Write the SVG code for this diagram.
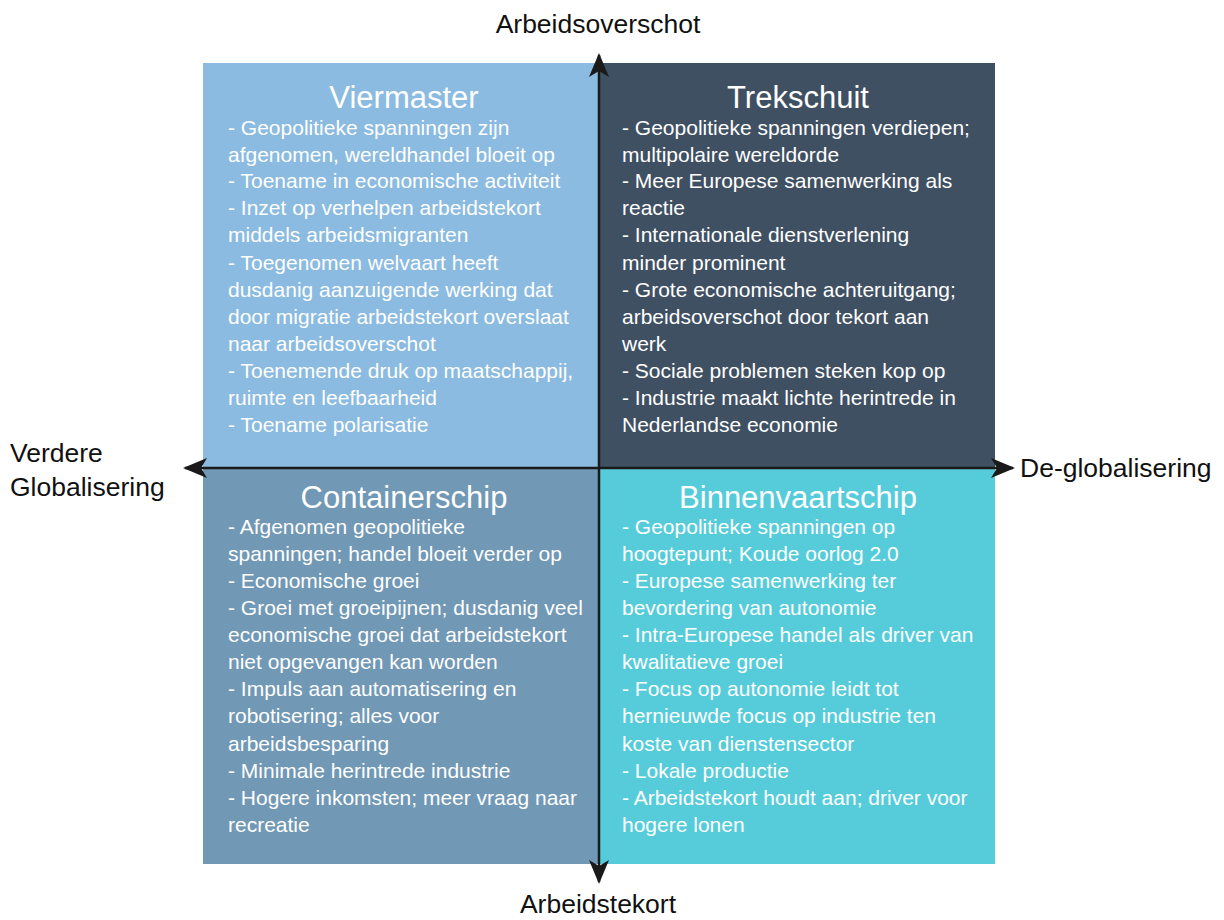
<svg xmlns="http://www.w3.org/2000/svg" width="1224" height="920" viewBox="0 0 1224 920">
<style>
.q text{fill:#ffffff;font-family:"Liberation Sans",Arial,sans-serif;font-size:21px}
.q .t{font-size:31px;text-anchor:middle}
.ax{fill:#111;font-family:"Liberation Sans",Arial,sans-serif;font-size:26.5px}
.axis{stroke:#1a1a1a;stroke-width:2.5;fill:none}
</style>
<defs>
<marker id="ah" viewBox="0 0 24 20" refX="22" refY="10" markerWidth="24" markerHeight="20" markerUnits="userSpaceOnUse" orient="auto">
<path d="M0,0 L24,10 L0,20 L6,10 Z" fill="#1a1a1a"/>
</marker>
</defs>
<rect width="1224" height="920" fill="#ffffff"/>
<g id="viermaster" class="q">
<rect x="203" y="63" width="396" height="405" fill="#8BBBE0"/>
<text class="t" x="404" y="108">Viermaster</text>
<text x="228" y="135">- Geopolitieke spanningen zijn</text>
<text x="228" y="162">afgenomen, wereldhandel bloeit op</text>
<text x="228" y="188">- Toename in economische activiteit</text>
<text x="228" y="215">- Inzet op verhelpen arbeidstekort</text>
<text x="228" y="242">middels arbeidsmigranten</text>
<text x="228" y="270">- Toegenomen welvaart heeft</text>
<text x="228" y="297">dusdanig aanzuigende werking dat</text>
<text x="228" y="324">door migratie  arbeidstekort overslaat</text>
<text x="228" y="351">naar arbeidsoverschot</text>
<text x="228" y="378">- Toenemende druk op maatschappij,</text>
<text x="228" y="405">ruimte en leefbaarheid</text>
<text x="228" y="432">- Toename polarisatie</text>
</g>
<g id="trekschuit" class="q">
<rect x="599" y="63" width="396" height="405" fill="#3F5062"/>
<text class="t" x="798" y="108">Trekschuit</text>
<text x="622" y="135">- Geopolitieke spanningen verdiepen;</text>
<text x="622" y="162">multipolaire wereldorde</text>
<text x="622" y="188">- Meer Europese samenwerking als</text>
<text x="622" y="215">reactie</text>
<text x="622" y="242">- Internationale dienstverlening</text>
<text x="622" y="270">minder prominent</text>
<text x="622" y="297">- Grote economische achteruitgang;</text>
<text x="622" y="324">arbeidsoverschot door tekort aan</text>
<text x="622" y="351">werk</text>
<text x="622" y="378">- Sociale problemen steken kop op</text>
<text x="622" y="405">- Industrie maakt lichte herintrede in</text>
<text x="622" y="432">Nederlandse economie</text>
</g>
<g id="containerschip" class="q">
<rect x="203" y="468" width="396" height="396" fill="#7198B5"/>
<text class="t" x="404" y="508">Containerschip</text>
<text x="228" y="534">- Afgenomen geopolitieke</text>
<text x="228" y="561">spanningen; handel bloeit verder op</text>
<text x="228" y="588">- Economische groei</text>
<text x="228" y="615">- Groei met groeipijnen; dusdanig veel</text>
<text x="228" y="642">economische groei dat arbeidstekort</text>
<text x="228" y="669">niet opgevangen kan worden</text>
<text x="228" y="696">- Impuls aan automatisering en</text>
<text x="228" y="723">robotisering; alles voor</text>
<text x="228" y="751">arbeidsbesparing</text>
<text x="228" y="778">- Minimale herintrede industrie</text>
<text x="228" y="805">- Hogere inkomsten; meer vraag naar</text>
<text x="228" y="832">recreatie</text>
</g>
<g id="binnenvaartschip" class="q">
<rect x="599" y="468" width="396" height="396" fill="#56CCDA"/>
<text class="t" x="798" y="508">Binnenvaartschip</text>
<text x="622" y="534">- Geopolitieke spanningen op</text>
<text x="622" y="561">hoogtepunt; Koude oorlog 2.0</text>
<text x="622" y="588">- Europese samenwerking ter</text>
<text x="622" y="615">bevordering van autonomie</text>
<text x="622" y="642">- Intra-Europese handel als driver van</text>
<text x="622" y="669">kwalitatieve groei</text>
<text x="622" y="696">- Focus op autonomie leidt tot</text>
<text x="622" y="723">hernieuwde focus op industrie ten</text>
<text x="622" y="751">koste van dienstensector</text>
<text x="622" y="778">- Lokale productie</text>
<text x="622" y="805">- Arbeidstekort houdt aan; driver voor</text>
<text x="622" y="832">hogere lonen</text>
</g>
<g id="connectors">
<line class="axis" x1="599" y1="468" x2="599" y2="55" marker-end="url(#ah)"/>
<line class="axis" x1="599" y1="468" x2="599" y2="882" marker-end="url(#ah)"/>
<line class="axis" x1="599" y1="468" x2="185" y2="468" marker-end="url(#ah)"/>
<line class="axis" x1="599" y1="468" x2="1013" y2="468" marker-end="url(#ah)"/>
</g>
<g id="labels">
<text class="ax" x="598" y="33" text-anchor="middle">Arbeidsoverschot</text>
<text class="ax" x="598" y="913" text-anchor="middle">Arbeidstekort</text>
<text class="ax" x="1020" y="477">De-globalisering</text>
<text class="ax" x="10" y="462">Verdere</text>
<text class="ax" x="10" y="496">Globalisering</text>
</g>
</svg>
